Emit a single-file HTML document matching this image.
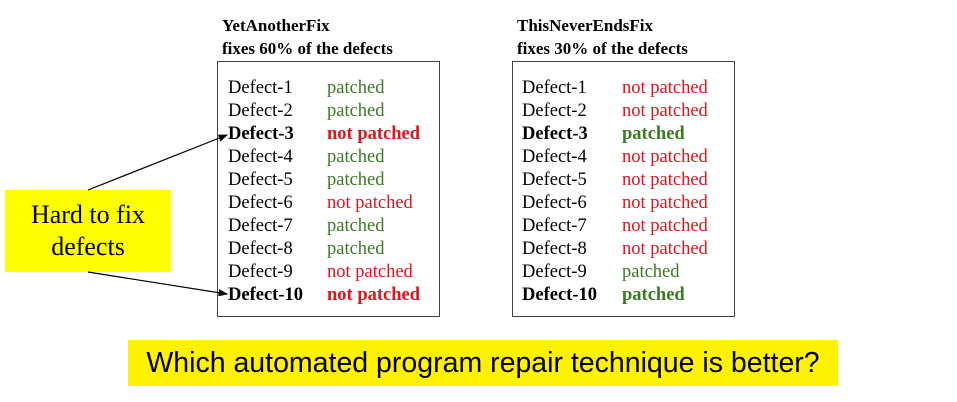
<!DOCTYPE html>
<html><head><meta charset="utf-8"><style>
body{margin:0;width:957px;height:402px;background:#fff;position:relative;overflow:hidden;font-family:"Liberation Serif",serif}
.a{position:absolute;white-space:nowrap}
.t{font-weight:bold;font-size:17px;line-height:23px}
.box{position:absolute;border:1.5px solid #444;top:61px;width:221px;height:254px}
.r{position:absolute;font-size:18.5px;line-height:23px;white-space:nowrap}
.g{color:#3a7a23}.d{color:#e0141c}.b{font-weight:bold}
</style></head><body>
<div class="a t" style="left:222px;top:14px">YetAnotherFix<br>fixes 60% of the defects</div>
<div class="a t" style="left:517px;top:14px">ThisNeverEndsFix<br>fixes 30% of the defects</div>
<div class="box" style="left:217px"></div>
<div class="box" style="left:512px"></div>
<div class="r" style="left:228px;top:77px">Defect-1<br>Defect-2<br><b>Defect-3</b><br>Defect-4<br>Defect-5<br>Defect-6<br>Defect-7<br>Defect-8<br>Defect-9<br><b>Defect-10</b></div>
<div class="r" style="left:327px;top:77px"><span class="g">patched</span><br><span class="g">patched</span><br><b class="d">not patched</b><br><span class="g">patched</span><br><span class="g">patched</span><br><span class="d">not patched</span><br><span class="g">patched</span><br><span class="g">patched</span><br><span class="d">not patched</span><br><b class="d">not patched</b></div>
<div class="r" style="left:522px;top:77px">Defect-1<br>Defect-2<br><b>Defect-3</b><br>Defect-4<br>Defect-5<br>Defect-6<br>Defect-7<br>Defect-8<br>Defect-9<br><b>Defect-10</b></div>
<div class="r" style="left:622px;top:77px"><span class="d">not patched</span><br><span class="d">not patched</span><br><b class="g">patched</b><br><span class="d">not patched</span><br><span class="d">not patched</span><br><span class="d">not patched</span><br><span class="d">not patched</span><br><span class="d">not patched</span><br><span class="g">patched</span><br><b class="g">patched</b></div>
<div class="a" style="left:5px;top:190px;width:166px;height:82px;background:#ffff00;font-size:26px;line-height:32px;text-align:center;padding-top:9px;box-sizing:border-box">Hard to fix<br>defects</div>
<svg class="a" style="left:0;top:0" width="957" height="402">
<defs><marker id="m" markerWidth="8" markerHeight="6" refX="7" refY="3" orient="auto"><path d="M0,0L8,3L0,6z" fill="#000"/></marker></defs>
<line x1="88" y1="190" x2="227" y2="135" stroke="#000" stroke-width="1.2" marker-end="url(#m)"/>
<line x1="88" y1="272" x2="227" y2="294" stroke="#000" stroke-width="1.2" marker-end="url(#m)"/>
</svg>
<div class="a" style="left:128px;top:340px;width:710px;height:46px;background:#fff200;font-family:'Liberation Sans',sans-serif;font-size:28.5px;line-height:46px;text-align:center">Which automated program repair technique is better?</div>
</body></html>
